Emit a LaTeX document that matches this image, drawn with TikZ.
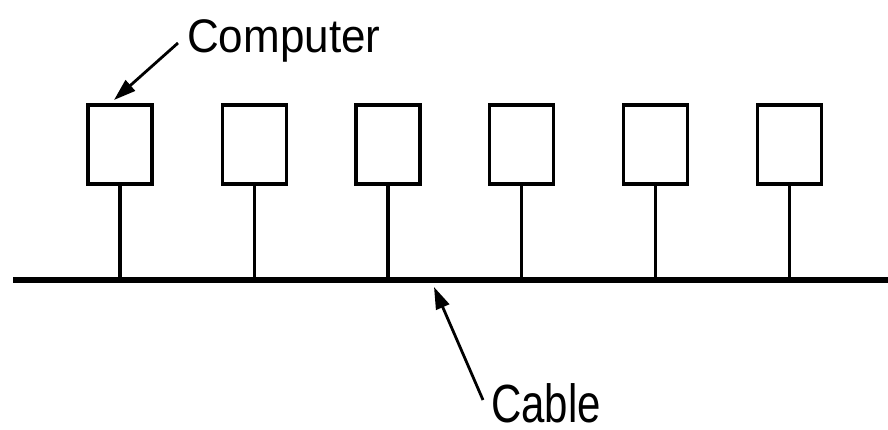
\documentclass[tikz,border=0pt]{standalone}
\usepackage{fontspec}
\setmainfont{Liberation Sans}
\usetikzlibrary{arrows.meta}
\begin{document}
\begin{tikzpicture}[x=1pt,y=-1pt,
  comp/.style={draw=black,line width=3.2pt,minimum width=64pt,minimum height=79pt,inner sep=0pt,outer sep=0pt},
  stem/.style={line width=3.6pt},
  cable/.style={line width=6.5pt},
  lbl/.style={font=\fontsize{43}{43}\selectfont,inner sep=0pt,anchor=base west,text depth=0pt},
  arr/.style={line width=2.8pt,-{Triangle[length=22pt,width=14pt]}}]
\useasboundingbox (0,0) rectangle (888,429);
\fill[white] (0,0) rectangle (888,429);
\foreach \i/\x in {1/120,2/254.5,3/388,4/521.5,5/655.5,6/789.5}{
  \node[comp] (b\i) at (\x,144.5) {};
  \coordinate (t\i) at (\x,280);
  \draw[stem] (b\i.south) -- (t\i);
}
\coordinate (cl) at (13,280);
\coordinate (cr) at (888,280);
\draw[cable] (cl) -- (cr);
\node[lbl,font=\fontsize{44}{44}\selectfont,yscale=1.07,transform shape] (computer) at (187,52) {Computer};
\node[lbl,font=\fontsize{42}{42}\selectfont,yscale=1.28,transform shape] (cablelbl) at (491,422) {Cable};
\coordinate (ctail) at (178,43);
\coordinate (ctip) at (114,100);
\draw[arr] (ctail) -- (ctip);
\coordinate (ktail) at (483,400);
\coordinate (ktip) at (434,287);
\draw[arr] (ktail) -- (ktip);
\end{tikzpicture}
\end{document}
